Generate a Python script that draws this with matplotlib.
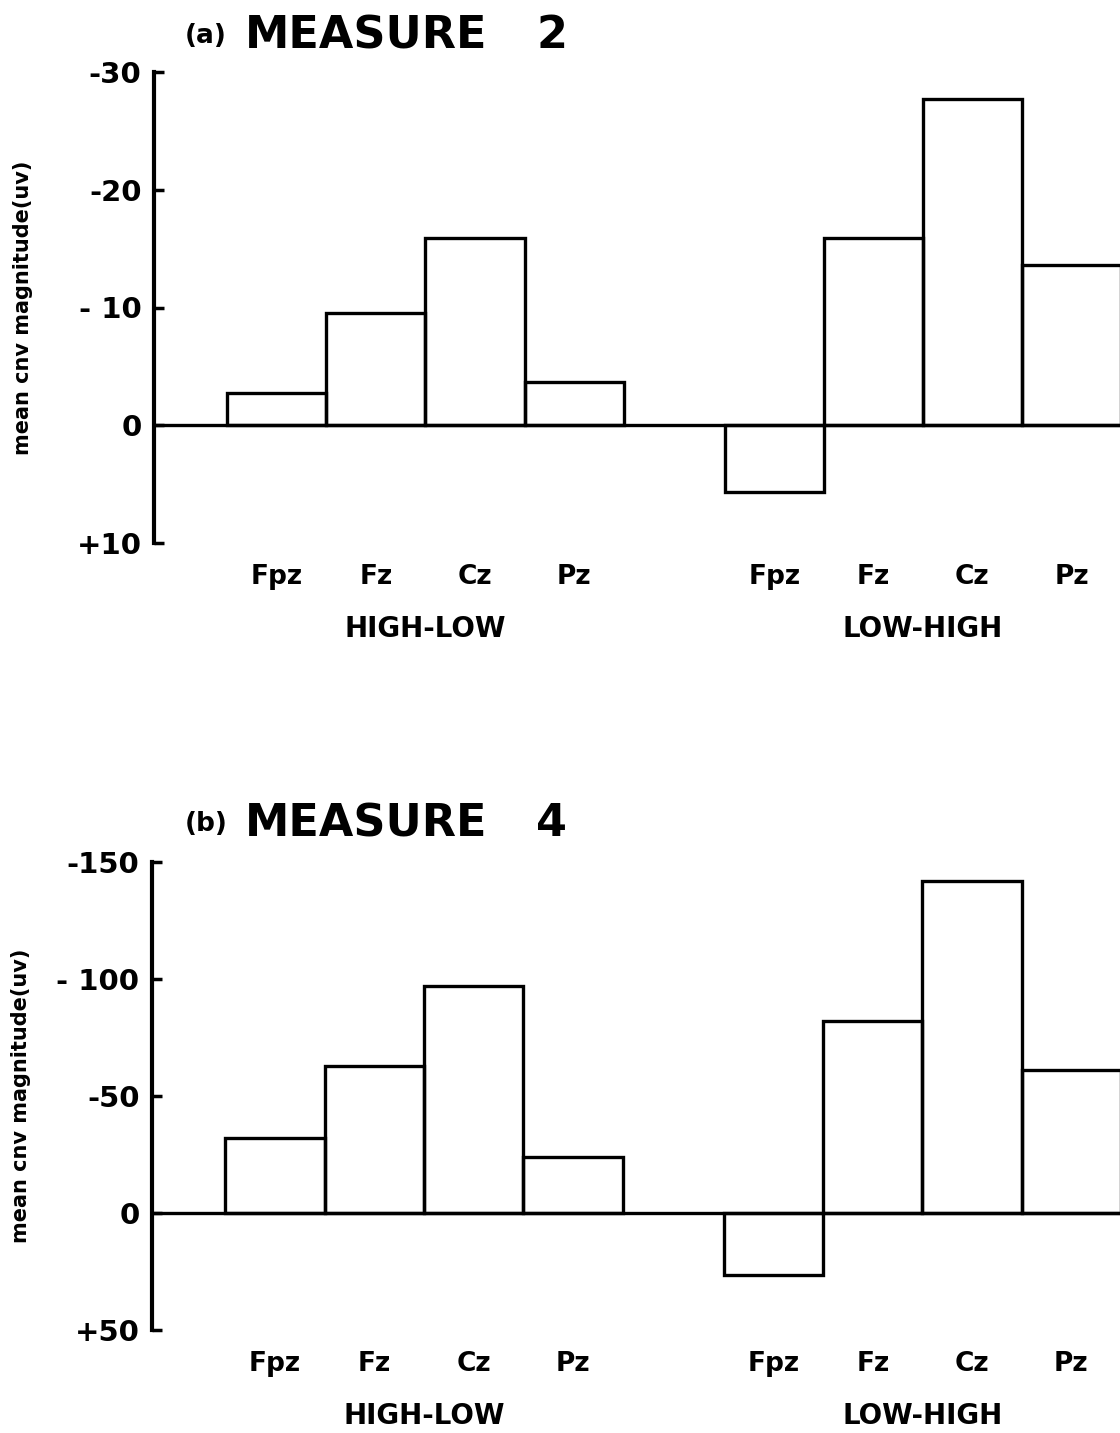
import matplotlib
matplotlib.use("Agg")
import matplotlib.pyplot as plt
import numpy as np

# ---------------- data ----------------
electrodes = ["Fpz", "Fz", "Cz", "Pz"]
groups = ["HIGH-LOW", "LOW-HIGH"]

m2_high_low = [-2.7, -9.5, -15.9, -3.7]
m2_low_high = [5.7, -15.9, -27.7, -13.6]

m4_high_low = [-32, -63, -97, -24]
m4_low_high = [26.5, -82, -142, -61]

m2_ticks = [-30, -20, -10, 0, 10]
m2_ticklabels = ["-30", "-20", "- 10", "0", "+10"]
m4_ticks = [-150, -100, -50, 0, 50]
m4_ticklabels = ["-150", "- 100", "-50", "0", "+50"]

titles = [("(a)", "MEASURE", "2"), ("(b)", "MEASURE", "4")]
ylabel = "mean cnv magnitude(uv)"

plt.rcParams["font.family"] = ["DejaVu Sans"]

W, H = 1120, 1433
fig = plt.figure(figsize=(W / 100, H / 100), dpi=100)


def px_axes(left, top, right, bottom):
    return fig.add_axes([left / W, 1 - bottom / H, (right - left) / W, (bottom - top) / H])


group_starts = [0.74, 5.76]
xmax = 9.75


def panel(ax, hl, lh, ticks, ticklabels, ylim):
    lw = 2.4
    for start, vals in zip(group_starts, [hl, lh]):
        xs = start + np.arange(len(vals)) + 0.5
        ax.bar(xs, vals, width=1.0, fill=False, edgecolor="black", linewidth=lw, zorder=3)
    ax.axhline(0, color="black", linewidth=lw, zorder=2)
    ax.set_xlim(0, xmax)
    ax.set_ylim(*ylim)
    for s in ["top", "right", "bottom"]:
        ax.spines[s].set_visible(False)
    ax.spines["left"].set_linewidth(3.0)
    ax.set_yticks(ticks)
    ax.set_yticklabels(ticklabels, fontsize=21, fontweight="bold")
    ax.tick_params(axis="y", direction="in", length=7, width=2.5, pad=9)
    centers = []
    labels = []
    for start in group_starts:
        for i, e in enumerate(electrodes):
            centers.append(start + i + 0.5)
            labels.append(e)
    ax.set_xticks(centers)
    ax.set_xticklabels(labels, fontsize=19, fontweight="bold")
    ax.tick_params(axis="x", length=0, pad=15)
    for start, g in zip(group_starts, groups):
        ax.annotate(g, xy=(start + 2.0, 0), xycoords=("data", "axes fraction"),
                    xytext=(0, -62), textcoords="offset points",
                    ha="center", va="center", fontsize=20, fontweight="bold")
    ax.set_ylabel(ylabel, fontsize=15, fontweight="bold")
    ax.yaxis.set_label_coords(-0.125, 0.5)


ax1 = px_axes(154, 72, 1120, 543)
panel(ax1, m2_high_low, m2_low_high, m2_ticks, m2_ticklabels, (10, -30))
ax2 = px_axes(152, 862, 1120, 1330)
panel(ax2, m4_high_low, m4_low_high, m4_ticks, m4_ticklabels, (50, -150))

# titles
for (sub, main, num), yc in zip(titles, [36, 824]):
    fig.text(185 / W, 1 - yc / H, sub, fontsize=19, fontweight="bold", ha="left", va="center")
    fig.text(245 / W, 1 - yc / H, main, fontsize=32, fontweight="bold", ha="left", va="center")
    fig.text(552 / W, 1 - yc / H, num, fontsize=32, fontweight="bold", ha="center", va="center")

fig.savefig("out.png", dpi=100, facecolor="white")
